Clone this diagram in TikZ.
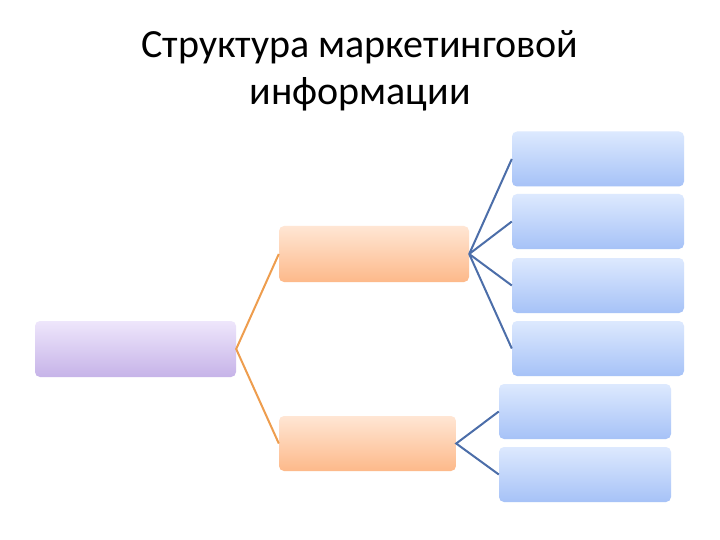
\documentclass[tikz,border=0pt]{standalone}
\usepackage{fontspec}
\setmainfont{Carlito}
\begin{document}
\begin{tikzpicture}[x=1pt,y=1pt,
  box/.style={rounded corners=5pt, inner sep=0pt, draw=none},
  pbox/.style={box, top color=purpT, bottom color=purpB, minimum width=201pt, minimum height=56pt},
  obox/.style={box, top color=oranT, bottom color=oranB, minimum height=56pt},
  bbox/.style={box, top color=blueT, bottom color=blueB, minimum width=172pt, minimum height=55pt},
  oline/.style={draw=oranL, line width=2pt},
  bline/.style={draw=blueL, line width=2pt},
  ttl/.style={font=\fontsize{40}{48}\selectfont, text=black, inner sep=0pt}]
\definecolor{purpT}{HTML}{EEE6FB}
\definecolor{purpB}{HTML}{C6B3E8}
\definecolor{oranT}{HTML}{FFE6D4}
\definecolor{oranB}{HTML}{FDB98A}
\definecolor{blueT}{HTML}{DDE9FE}
\definecolor{blueB}{HTML}{A6C2F7}
\definecolor{oranL}{HTML}{EE9D4E}
\definecolor{blueL}{HTML}{4C6EA9}
\useasboundingbox[fill=white] (0,0) rectangle (720,-540);
\node[ttl, anchor=base] (title1) at (360,-58) {Структура маркетинговой};
\node[ttl, anchor=base] (title2) at (360,-105) {информации};
\node[pbox] (root) at (135.5,-349) {};
\node[obox, minimum width=190pt] (o1) at (374,-254) {};
\node[obox, minimum width=177pt, minimum height=55pt] (o2) at (367.5,-443.5) {};
\node[bbox] (b1) at (598,-159) {};
\node[bbox] (b2) at (598,-221.5) {};
\node[bbox] (b3) at (598,-285.5) {};
\node[bbox] (b4) at (598,-348.5) {};
\node[bbox] (b5) at (585,-411.5) {};
\node[bbox] (b6) at (585,-474.5) {};
\draw[oline] (o1.west) -- (root.east) -- (o2.west);
\foreach \b in {b1,b2,b3,b4}{\draw[bline] (o1.east) -- (\b.west);}
\draw[bline] (b5.west) -- (o2.east) -- (b6.west);
\end{tikzpicture}
\end{document}
